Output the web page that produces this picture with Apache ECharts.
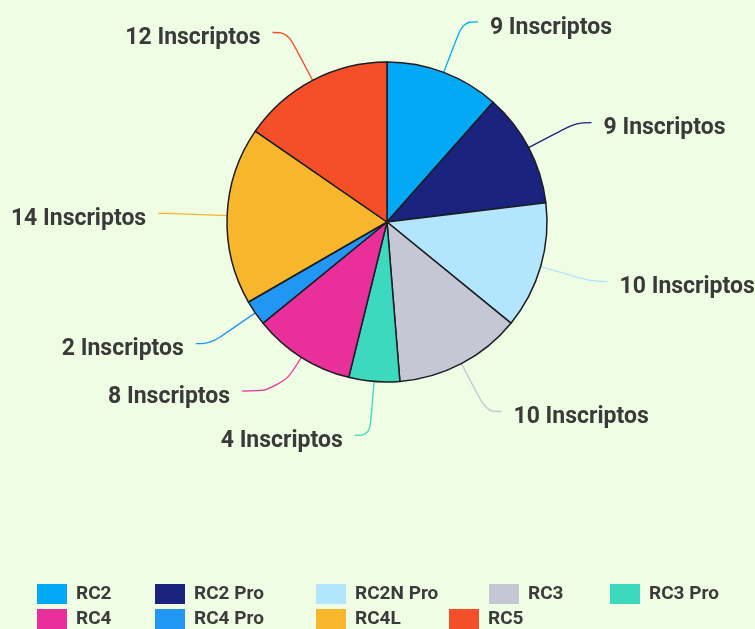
<!DOCTYPE html>
<html>
<head>
<meta charset="utf-8">
<script src="https://cdn.jsdelivr.net/npm/echarts@6/dist/echarts.min.js"></script>
<style>
    html, body { margin: 0; padding: 0; background: #eefde4; }
    #chart { width: 755px; height: 629px; }
</style>
</head>
<body>
<div id="chart"></div>
<script>
const categories = ['RC2', 'RC2 Pro', 'RC2N Pro', 'RC3', 'RC3 Pro', 'RC4', 'RC4 Pro', 'RC4L', 'RC5']
const inscritos = [9, 9, 10, 10, 4, 8, 2, 14, 12]
const colors = ['#03a9f4', '#1a237e', '#b3e5fc', '#c5c7d4', '#3dd9bf', '#e9309a', '#2196f3', '#f8b62c', '#f54f29']

const FONT = 'Roboto'

// legend slots (x of each swatch), two rows like the original
const legendSlots = [
    [37, 584], [155, 584], [316, 584], [489, 584], [610, 584],
    [37, 609], [155, 609], [316, 609], [449, 609],
]

const chart = echarts.init(document.getElementById('chart'))

const legends = categories.map((name, i) => ({
    orient: 'horizontal',
    left: legendSlots[i][0],
    top: legendSlots[i][1],
    padding: 0,
    itemWidth: 30,
    itemHeight: 20,
    icon: 'rect',
    selectedMode: false,
    itemStyle: { borderWidth: 0 },
    textStyle: {
        fontFamily: FONT,
        fontWeight: 'bold',
        fontSize: 19,
        color: '#3b3b3b',
        padding: [0, 0, 0, 4],
    },
    data: [name],
}))

// RC4 label sits lower-left in the original
const lineTweaks = { 5: { length: 40, length2: 38 } }

chart.setOption({
    backgroundColor: '#eefde4',
    color: colors,
    animation: false,
    legend: legends,
    series: [{
        type: 'pie',
        center: [387, 222],
        radius: 160,
        startAngle: 90,
        clockwise: true,
        avoidLabelOverlap: true,
        data: categories.map((name, i) => {
            const d = { name, value: inscritos[i] }
            if (lineTweaks[i]) d.labelLine = lineTweaks[i]
            return d
        }),
        itemStyle: {
            borderColor: '#1c1c24',
            borderWidth: 1.5,
        },
        label: {
            show: true,
            position: 'outside',
            formatter: '{gap|}\n{t|{c} Inscriptos}',
            rich: {
                gap: { fontSize: 1, lineHeight: 12 },
                t: {
                    fontFamily: FONT,
                    fontWeight: 'bold',
                    fontSize: 23,
                    lineHeight: 28,
                    color: '#3a3a3a',
                },
            },
            overflow: 'none',
            distanceToLabelLine: 12,
            bleedMargin: 0,
        },
        labelLine: {
            show: true,
            length: 54,
            length2: 15,
            smooth: 0.4,
            lineStyle: { width: 1.3 },
        },
        emphasis: { disabled: true },
    }],
})
</script>
</body>
</html>
